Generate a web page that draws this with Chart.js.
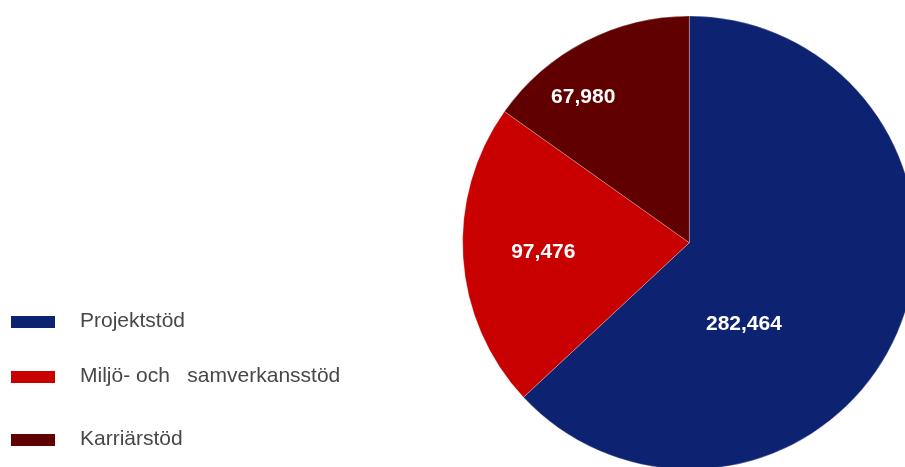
<!DOCTYPE html>
<html>
<head>
<meta charset="utf-8">
<script src="https://cdn.jsdelivr.net/npm/chart.js@4/dist/chart.umd.min.js"></script>
<style>
  html, body { margin: 0; padding: 0; background: #ffffff; overflow: hidden; }
  #wrap { width: 905px; height: 467px; overflow: hidden; position: relative; }
  canvas { display: block; }
</style>
</head>
<body>
<div id="wrap"><canvas id="pie" width="920" height="475"></canvas></div>
<script>
// Stödformer och belopp
const categories = ['Projektstöd', 'Miljö- och   samverkansstöd', 'Karriärstöd'];
const amounts = [282464, 97476, 67980];
const sliceColors = ['#0e2272', '#c80000', '#600000'];

// Where each value label sits inside its slice:
// share of the slice's sweep, and share of the radius.
const labelPlacement = [
  { along: 0.642, out: 0.428 },
  { along: 0.508, out: 0.645 },
  { along: 0.343, out: 0.798 }
];

// Legend rows (vertical centre of each row) on the left side
const legendRows = [322, 377, 440];

const valueLabels = {
  id: 'valueLabels',
  afterDatasetsDraw(chart) {
    const ctx = chart.ctx;
    const meta = chart.getDatasetMeta(0);
    ctx.save();
    ctx.font = 'bold 21px "Liberation Sans", Arial, sans-serif';
    ctx.fillStyle = '#ffffff';
    ctx.textAlign = 'center';
    ctx.textBaseline = 'middle';
    meta.data.forEach((arc, i) => {
      const p = arc.getProps(['x', 'y', 'startAngle', 'endAngle', 'outerRadius'], true);
      const pl = labelPlacement[i];
      const a = p.startAngle + pl.along * (p.endAngle - p.startAngle);
      const r = pl.out * p.outerRadius;
      const v = chart.data.datasets[0].data[i];
      ctx.fillText(v.toLocaleString('en-US'), p.x + Math.cos(a) * r, p.y + Math.sin(a) * r + 1);
    });
    ctx.restore();
  }
};

const sideLegend = {
  id: 'sideLegend',
  afterDraw(chart) {
    const ctx = chart.ctx;
    const ds = chart.data.datasets[0];
    ctx.save();
    ctx.font = '21px "Liberation Sans", Arial, sans-serif';
    ctx.textBaseline = 'middle';
    ctx.textAlign = 'left';
    chart.data.labels.forEach((label, i) => {
      const cy = legendRows[i];
      ctx.fillStyle = ds.backgroundColor[i];
      ctx.fillRect(11, cy - 6, 44, 12);
      ctx.fillStyle = '#474747';
      ctx.fillText(label, 80, cy - 1);
    });
    ctx.restore();
  }
};

new Chart(document.getElementById('pie'), {
  type: 'pie',
  data: {
    labels: categories,
    datasets: [{
      data: amounts,
      backgroundColor: sliceColors,
      borderColor: 'rgba(255,255,255,0.45)',
      borderWidth: 0.6,
      hoverOffset: 0,
      offset: 0
    }]
  },
  options: {
    responsive: false,
    animation: false,
    events: [],
    layout: { padding: { left: 462.3, top: 15.7, right: 3.7, bottom: 5.3 } },
    plugins: {
      legend: { display: false },
      tooltip: { enabled: false },
      title: { display: false }
    }
  },
  plugins: [valueLabels, sideLegend]
});
</script>
</body>
</html>
